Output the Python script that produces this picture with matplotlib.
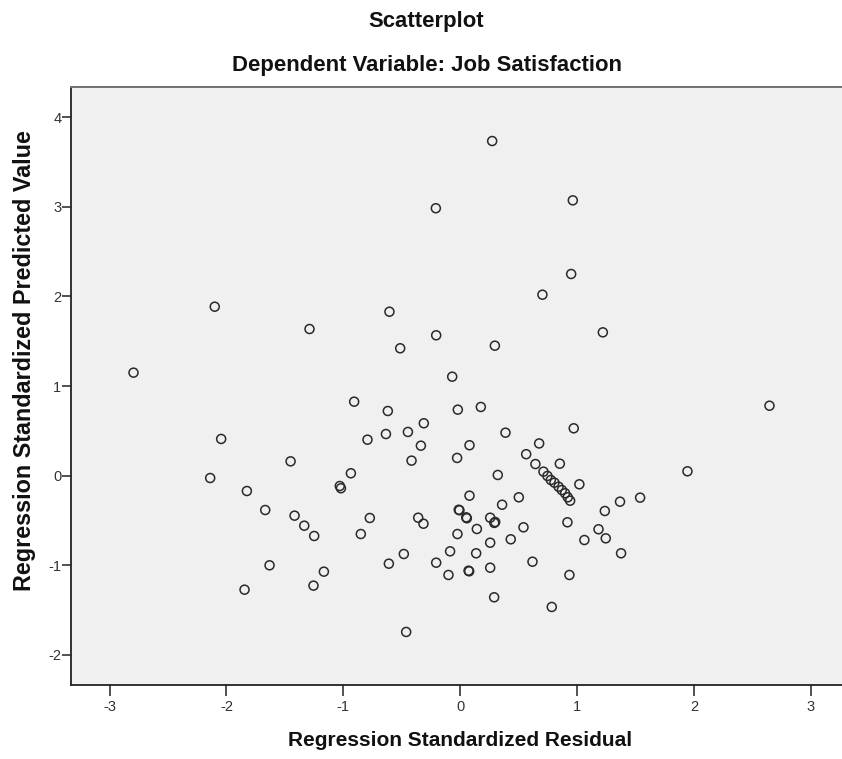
import matplotlib
matplotlib.use("Agg")
import matplotlib.pyplot as plt

plt.rcParams['font.family'] = ['Liberation Sans', 'DejaVu Sans']

# Regression Standardized Residual (x) and Regression Standardized Predicted Value (y)
residual = [
    -0.208, -2.100, -1.289, -0.605, -0.205, -0.513, -2.795, -0.068,
    0.274, 0.964, 0.950, 0.704, 1.221, 0.297,
    -0.907, -0.619, -0.311, -2.045, -0.793, -0.635, -0.447, -0.336, -0.416,
    -1.451, -2.139, -0.935, -1.030, -1.020, -1.825, -1.668, -1.417, -1.334,
    -1.249, -0.773, -0.850, -0.359, -0.314,
    -0.020, -0.026, -0.006, -0.012, 0.057, 0.052, -0.023,
    -0.482, -0.610, -0.205, -0.086, -0.100,
    -1.631, -1.166, -1.255, -1.845, -0.462,
    0.177, 0.388, 0.972, 0.080, 0.676, 0.565, 0.644, 0.853, 0.322, 1.020,
    0.713, 0.747, 0.776, 0.807, 0.842, 0.870, 0.898, 0.921, 0.941,
    0.080, 0.502, 0.359, 0.257, 0.300, 0.292, 0.143, 0.542, 0.918,
    0.433, 0.257, 1.063, 1.184, 1.246, 1.238, 1.368, 1.540, 1.377,
    1.945, 2.647,
    0.137, 0.077, 0.072, 0.257, 0.619, 0.935, 0.291, 0.784,
]
predicted = [
    2.985, 1.886, 1.637, 1.830, 1.567, 1.422, 1.150, 1.105,
    3.735, 3.073, 2.251, 2.020, 1.600, 1.451,
    0.826, 0.722, 0.585, 0.410, 0.402, 0.465, 0.488, 0.335, 0.168,
    0.160, -0.026, 0.027, -0.115, -0.140, -0.171, -0.383, -0.446, -0.558,
    -0.673, -0.472, -0.651, -0.469, -0.536,
    0.737, 0.198, -0.386, -0.380, -0.475, -0.465, -0.651,
    -0.874, -0.982, -0.971, -0.844, -1.108,
    -1.000, -1.071, -1.227, -1.272, -1.744,
    0.767, 0.480, 0.529, 0.340, 0.360, 0.240, 0.130, 0.134, 0.008, -0.096,
    0.045, -0.003, -0.048, -0.078, -0.123, -0.160, -0.196, -0.241, -0.279,
    -0.223, -0.241, -0.324, -0.469, -0.517, -0.527, -0.595, -0.576, -0.520,
    -0.710, -0.748, -0.718, -0.598, -0.699, -0.394, -0.290, -0.245, -0.866,
    0.049, 0.781,
    -0.866, -1.067, -1.060, -1.027, -0.960, -1.108, -1.357, -1.465,
]

x_ticks = [-3, -2, -1, 0, 1, 2, 3]
y_ticks = [-2, -1, 0, 1, 2, 3, 4]

W, H = 842, 759
fig = plt.figure(figsize=(W / 100, H / 100), dpi=100)
fig.patch.set_facecolor('white')

ax_left, ax_right, ax_top, ax_bottom = 71, 849.3, 87, 685
ax = fig.add_axes([ax_left / W, 1 - ax_bottom / H,
                   (ax_right - ax_left) / W, (ax_bottom - ax_top) / H])
ax.set_facecolor('#F0F0F0')

ax.scatter(residual, predicted, s=42, facecolors='none',
           edgecolors='#2a2a2a', linewidths=1.1, zorder=3)

ax.set_xlim(-3.33, 3.33)
ax.set_ylim(-2.336, 4.338)
ax.set_xticks(x_ticks)
ax.set_yticks(y_ticks)
ax.set_xticklabels([str(v) for v in x_ticks])
ax.set_yticklabels([str(v) for v in y_ticks])

ax.tick_params(axis='x', length=8, width=1.1, color='#222222', pad=3,
               labelsize=10.5, labelcolor='#333333')
ax.tick_params(axis='y', length=6.5, width=1.1, color='#222222', pad=0.5,
               labelsize=10.5, labelcolor='#333333')

for side in ['left', 'bottom']:
    ax.spines[side].set_color('#222222')
    ax.spines[side].set_linewidth(1.3)
ax.spines['top'].set_color('#707070')
ax.spines['top'].set_linewidth(1.4)
ax.spines['right'].set_visible(False)

fig.text(426 / W, 1 - 21 / H, 'Scatterplot', ha='center', va='center',
         fontsize=15.9, fontweight='bold', color='#111111')
fig.text(427 / W, 1 - 66 / H, 'Dependent Variable: Job Satisfaction',
         ha='center', va='center', fontsize=15.9, fontweight='bold', color='#111111')
fig.text(460 / W, 1 - 740 / H, 'Regression Standardized Residual',
         ha='center', va='center', fontsize=15, fontweight='bold', color='#111111')
fig.text(25 / W, 1 - 361 / H, 'Regression Standardized Predicted Value',
         ha='center', va='center', rotation=90, fontsize=16.8, fontweight='bold',
         color='#111111')

fig.savefig('out.png', dpi=100)
